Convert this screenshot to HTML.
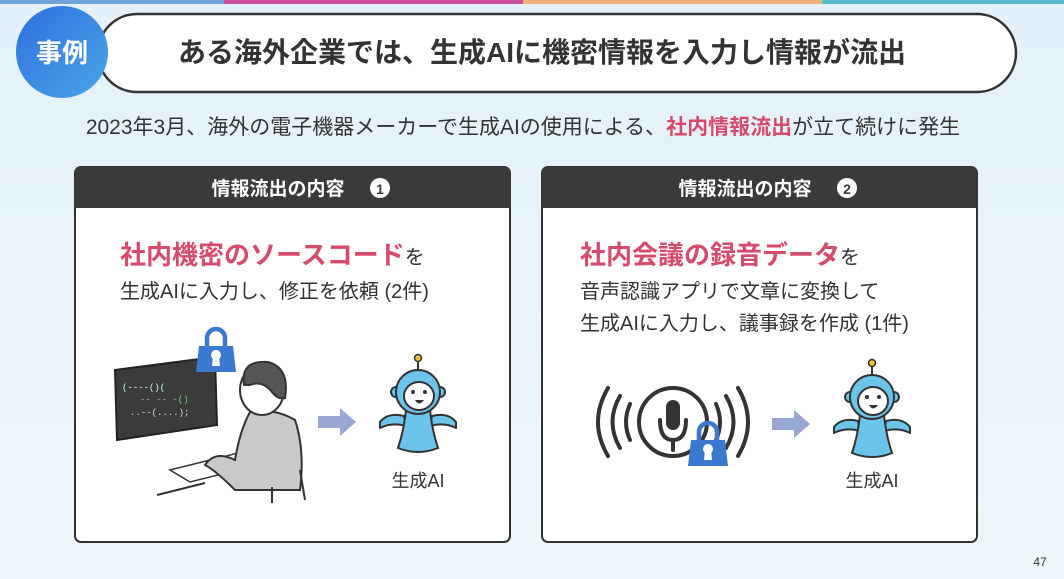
<!DOCTYPE html>
<html><head><meta charset="utf-8"><style>
html,body{margin:0;padding:0;width:1064px;height:579px;overflow:hidden;background:#e9f4fb;}
svg{display:block;font-family:"Liberation Sans","Noto Sans CJK JP",sans-serif;}
</style></head><body>
<svg width="1064" height="579" viewBox="0 0 1064 579" xmlns="http://www.w3.org/2000/svg">
<defs>
<linearGradient id="bg" x1="0" y1="0" x2="0" y2="1"><stop offset="0" stop-color="#e4f1fa"/><stop offset="1" stop-color="#edf6fb"/></linearGradient>
<linearGradient id="cg" x1="0" y1="0" x2="1" y2="1"><stop offset="0" stop-color="#2f6fe0"/><stop offset="1" stop-color="#4aa6e6"/></linearGradient>
<g id="robot">
  <line x1="0" y1="-50" x2="0" y2="-40" stroke="#333" stroke-width="2"/>
  <circle cx="0" cy="-52" r="3.5" fill="#f0c23a" stroke="#333" stroke-width="1.5"/>
  <path d="M-38 12 Q-30 2 -14 6 L-12 16 Q-26 12 -38 18 Z" fill="#6cc4ea" stroke="#333" stroke-width="2" stroke-linejoin="round"/>
  <path d="M38 12 Q30 2 14 6 L12 16 Q26 12 38 18 Z" fill="#6cc4ea" stroke="#333" stroke-width="2" stroke-linejoin="round"/>
  <path d="M-12 0 Q-14 20 -20 38 Q0 46 20 38 Q14 20 12 0 Z" fill="#6cc4ea" stroke="#333" stroke-width="2"/>
  <circle cx="-22" cy="-18" r="5" fill="#6cc4ea" stroke="#333" stroke-width="2"/>
  <circle cx="22" cy="-18" r="5" fill="#6cc4ea" stroke="#333" stroke-width="2"/>
  <circle cx="0" cy="-18" r="22" fill="#6cc4ea" stroke="#333" stroke-width="2"/>
  <ellipse cx="1" cy="-14" rx="15" ry="14" fill="#fff" stroke="#333" stroke-width="2"/>
  <circle cx="-5" cy="-18" r="2" fill="#333"/><circle cx="7" cy="-18" r="2" fill="#333"/>
  <path d="M-3 -10 Q1 -3 6 -10 Z" fill="#333"/>
</g>
<g id="lock">
  <path d="M-9 0 V-8 A9 9 0 0 1 9 -8 V0" fill="none" stroke="#3b78d0" stroke-width="4.5"/>
  <path d="M-17 0 H17 L20 26 H-20 Z" fill="#3b78d0"/>
  <circle cx="0" cy="9" r="5" fill="#fff"/><path d="M-3 10 L3 10 L4 20 L-4 20 Z" fill="#fff"/>
</g>
<g id="arrow"><path d="M0 -6 H22 V-14 L38 0 L22 14 V6 H0 Z" fill="#98a8d3"/></g>
</defs>
<rect width="1064" height="579" fill="url(#bg)"/>
<rect x="0" y="0" width="224" height="4" fill="#6fa3da"/>
<rect x="224" y="0" width="299" height="4" fill="#cc4f9c"/>
<rect x="523" y="0" width="299" height="4" fill="#f2b07a"/>
<rect x="822" y="0" width="242" height="4" fill="#5bbdc9"/>

<rect x="98" y="14" width="918" height="78" rx="39" fill="#fff" stroke="#333" stroke-width="2.5"/>
<circle cx="62" cy="52" r="46" fill="url(#cg)"/>
<text x="62" y="62" font-size="26" font-weight="bold" fill="#fff" text-anchor="middle">事例</text>
<text x="542" y="62" font-size="28" font-weight="bold" fill="#333" text-anchor="middle">ある海外企業では、生成AIに機密情報を入力し情報が流出</text>
<text x="523" y="134" font-size="21" fill="#333" text-anchor="middle">2023年3月、海外の電子機器メーカーで生成AIの使用による、<tspan fill="#d64b6c" font-weight="bold">社内情報流出</tspan>が立て続けに発生</text>

<!-- Left card -->
<rect x="75" y="167" width="435" height="375" rx="6" fill="#fff" stroke="#333" stroke-width="2"/>
<path d="M75 173 A6 6 0 0 1 81 167 H504 A6 6 0 0 1 510 173 V208 H75 Z" fill="#3a3a3a"/>
<text x="278" y="195" font-size="19" font-weight="bold" fill="#fff" text-anchor="middle">情報流出の内容</text>
<circle cx="380" cy="188" r="10" fill="#fff"/><text x="380" y="194" font-size="14" font-weight="bold" fill="#3a3a3a" text-anchor="middle">1</text>
<text x="120" y="264" font-size="26" font-weight="bold" fill="#d64b6c">社内機密のソースコード<tspan font-size="20" fill="#333" font-weight="normal">を</tspan></text>
<text x="120" y="298" font-size="20" fill="#333">生成AIに入力し、修正を依頼 (2件)</text>

<!-- monitor -->
<path d="M115 370 L215 357 L217 425 L117 440 Z" fill="#3b3b3b" stroke="#222" stroke-width="2"/>
<text x="122" y="390" font-size="9" fill="#cfe" font-family="Liberation Mono,monospace">(----()(</text>
<text x="140" y="402" font-size="9" fill="#8c8" font-family="Liberation Mono,monospace">-- -- -()</text>
<text x="130" y="415" font-size="9" fill="#ddd" font-family="Liberation Mono,monospace">..--(....);</text>
<use href="#lock" x="216" y="346"/>
<!-- person -->
<path d="M170 470 L250 450 L270 462 L190 482 Z" fill="#fff" stroke="#333" stroke-width="1.5"/>
<line x1="157" y1="495" x2="205" y2="483" stroke="#333" stroke-width="2"/>
<path d="M250 412 Q275 408 295 420 Q305 450 300 490 L235 490 Q215 470 205 465 Q215 450 235 460 Q240 430 250 412 Z" fill="#c9c9c9" stroke="#333" stroke-width="2"/>
<path d="M272 487 V503 M300 470 L305 500" stroke="#333" stroke-width="2" fill="none"/>
<ellipse cx="262" cy="390" rx="22" ry="25" fill="#fff" stroke="#333" stroke-width="2"/>
<path d="M244 385 Q240 360 268 362 Q290 368 285 398 Q278 400 272 392 Q262 380 250 385 Z" fill="#555" stroke="#333" stroke-width="2"/>
<use href="#arrow" x="318" y="422"/>
<use href="#robot" x="418" y="410"/>
<text x="418" y="487" font-size="18" fill="#333" text-anchor="middle">生成AI</text>

<!-- Right card -->
<rect x="542" y="167" width="435" height="375" rx="6" fill="#fff" stroke="#333" stroke-width="2"/>
<path d="M542 173 A6 6 0 0 1 548 167 H971 A6 6 0 0 1 977 173 V208 H542 Z" fill="#3a3a3a"/>
<text x="745" y="195" font-size="19" font-weight="bold" fill="#fff" text-anchor="middle">情報流出の内容</text>
<circle cx="847" cy="188" r="10" fill="#fff"/><text x="847" y="194" font-size="14" font-weight="bold" fill="#3a3a3a" text-anchor="middle">2</text>
<text x="580" y="264" font-size="26" font-weight="bold" fill="#d64b6c">社内会議の録音データ<tspan font-size="20" fill="#333" font-weight="normal">を</tspan></text>
<text x="580" y="298" font-size="20" fill="#333">音声認識アプリで文章に変換して</text>
<text x="580" y="330" font-size="20" fill="#333">生成AIに入力し、議事録を作成 (1件)</text>

<!-- mic -->
<g fill="none" stroke="#333" stroke-width="4" stroke-linecap="round">
<circle cx="673" cy="422" r="34"/>
<path d="M608 388 Q588 422 608 456"/><path d="M620 396 Q605 422 620 448"/><path d="M630 404 Q622 422 630 440"/>
<path d="M738 388 Q758 422 738 456"/><path d="M726 396 Q741 422 726 448"/><path d="M716 404 Q724 422 716 440"/>
<path d="M660 420 Q660 440 673 440 Q686 440 686 420"/><line x1="673" y1="440" x2="673" y2="450"/>
</g>
<rect x="666" y="400" width="14" height="30" rx="7" fill="#333"/>
<use href="#lock" x="708" y="440"/>
<use href="#arrow" x="772" y="424"/>
<use href="#robot" x="872" y="415"/>
<text x="872" y="487" font-size="18" fill="#333" text-anchor="middle">生成AI</text>

<text x="1040" y="566" font-size="12" fill="#333" text-anchor="middle">47</text>
</svg>
</body></html>
